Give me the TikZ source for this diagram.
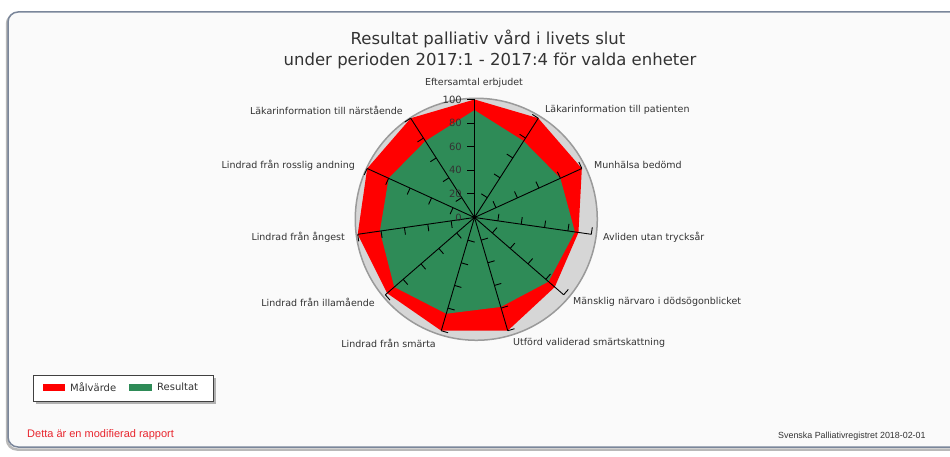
\documentclass[tikz,border=0pt]{standalone}
\usepackage{fontspec}
\setmainfont{DejaVu Sans}
\newfontfamily\arialf{Liberation Sans}
\definecolor{tred}{HTML}{FF0000}
\definecolor{rgreen}{HTML}{2E8B57}
\definecolor{ringfill}{HTML}{D6D6D6}
\definecolor{ringedge}{HTML}{9A9A9A}
\definecolor{framec}{HTML}{7A869A}
\definecolor{framefill}{HTML}{FAFAFA}
\definecolor{txt}{HTML}{333333}
\definecolor{notered}{HTML}{E8262E}
\begin{document}
\begin{tikzpicture}[x=1pt,y=-1pt,
  lbl/.style={font=\fontsize{9.5}{11}\selectfont, text=txt, inner sep=0pt},
  vallbl/.style={font=\fontsize{10}{12}\selectfont, text=txt, inner sep=0pt, anchor=east},
  titlestyle/.style={font=\fontsize{16.5}{19}\selectfont, text=txt, inner sep=0pt},
  axisline/.style={black, line width=0.9pt},
  legtext/.style={font=\fontsize{10}{12}\selectfont, text=txt, inner sep=0pt, anchor=west}]
\useasboundingbox (0,0) rectangle (950,457);
\fill[white] (0,0) rectangle (950,457);
% frame
\draw[gray!55, line width=2.5pt, rounded corners=10pt] (7,14) rectangle (965,449.5);
\draw[framec, fill=framefill, line width=1.5pt, rounded corners=10pt] (8,12) rectangle (965,447);
% title
\node[titlestyle] (t1) at (488,39) {Resultat palliativ vård i livets slut};
\node[titlestyle] (t2) at (490,61) {under perioden 2017:1 - 2017:4 för valda enheter};
% chart
\begin{scope}[shift={(474.5,217.5)}, x=1.18pt, y=1.18pt]
  \fill[ringfill] (1.5,-1.5) circle (121pt);
  \draw[ringedge, line width=1.5pt] (1.5,-1.5) circle (121pt);
  \fill[tred] (90:100) \foreach \v [count=\i] in {100,100,89,90,100,100,98,100,100,100} { -- (90-\i*32.7273:\v) } -- cycle;
  \fill[rgreen] (90:91) \foreach \v [count=\i] in {77,80,86,83,79,85,90,81,80,77} { -- (90-\i*32.7273:\v) } -- cycle;
  \foreach \i in {0,...,10} {
    \draw[axisline] (0,0) -- (90-\i*32.7273:100);
    \foreach \t in {20,40,60,80,100} {
      \draw[axisline] (90-\i*32.7273:\t) -- ++(180-\i*32.7273:6);
    }
  }
  \fill[black] (0,0) circle (1.8pt);
\end{scope}
% value labels
\node[vallbl] (v100) at (462,99.5) {100};
\node[vallbl] (v80) at (462,123) {80};
\node[vallbl] (v60) at (462,146.5) {60};
\node[vallbl] (v40) at (462,170) {40};
\node[vallbl] (v20) at (462,194) {20};
\node[vallbl] (v0) at (462,217.5) {0};
% axis labels
\node[lbl, anchor=center] (l0) at (474,83) {Eftersamtal erbjudet};
\node[lbl, anchor=west] (l1) at (545,110) {Läkarinformation till patienten};
\node[lbl, anchor=west] (l2) at (594,165) {Munhälsa bedömd};
\node[lbl, anchor=west] (l3) at (603,237) {Avliden utan trycksår};
\node[lbl, anchor=west] (l4) at (573,302) {Mänsklig närvaro i dödsögonblicket};
\node[lbl, anchor=west] (l5) at (513,343) {Utförd validerad smärtskattning};
\node[lbl, anchor=east] (l6) at (436,343) {Lindrad från smärta};
\node[lbl, anchor=east] (l7) at (375,302) {Lindrad från illamående};
\node[lbl, anchor=east] (l8) at (345,237) {Lindrad från ångest};
\node[lbl, anchor=east] (l9) at (355,165) {Lindrad från rosslig andning};
\node[lbl, anchor=east] (l10) at (403,110) {Läkarinformation till närstående};
% legend
\fill[gray!60] (36,378) rectangle (216,404);
\draw[black!75, fill=white, line width=1pt] (33,375) rectangle (213,401);
\fill[tred] (43,383.5) rectangle (65,390.5);
\node[legtext] (lg1) at (70,387) {Målvärde};
\fill[rgreen] (129,383.5) rectangle (152,390.5);
\node[legtext] (lg2) at (157,387) {Resultat};
% footer
\node[font=\arialf\fontsize{11}{13}\selectfont, text=notered, inner sep=0pt, anchor=west] (note) at (27,435) {Detta är en modifierad rapport};
\node[font=\arialf\fontsize{8.9}{11}\selectfont, text=txt, inner sep=0pt, anchor=west] (src) at (778,436) {Svenska Palliativregistret 2018-02-01};
\end{tikzpicture}
\end{document}
